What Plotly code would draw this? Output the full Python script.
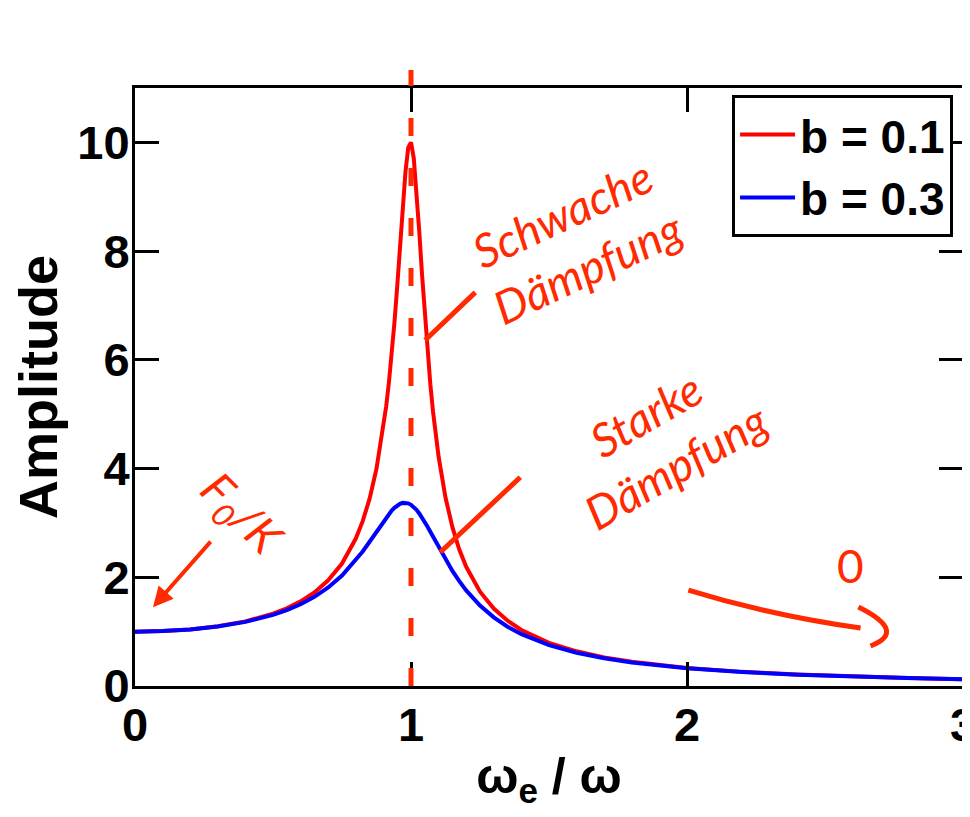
import plotly.graph_objects as go

# ---- data ----
ratio = [0.0, 0.1, 0.2, 0.3, 0.4, 0.5, 0.55, 0.6, 0.65, 0.7, 0.75, 0.8, 0.825, 0.85,
         0.875, 0.9, 0.91, 0.92, 0.93, 0.94, 0.95, 0.96, 0.97, 0.98, 0.99, 1.0,
         1.01, 1.02, 1.03, 1.04, 1.05, 1.06, 1.07, 1.08, 1.09, 1.1, 1.125, 1.15,
         1.175, 1.2, 1.25, 1.3, 1.35, 1.4, 1.5, 1.6, 1.7, 1.8, 2.0, 2.2, 2.4,
         2.6, 2.8, 3.0]
amp_b01 = [1.000, 1.010, 1.041, 1.098, 1.189, 1.330, 1.429, 1.556, 1.721, 1.943,
           2.253, 2.712, 3.032, 3.446, 3.997, 4.757, 5.141, 5.585, 6.097, 6.684,
           7.346, 8.068, 8.804, 9.461, 9.903, 10.000, 9.711, 9.115, 8.357, 7.565,
           6.815, 6.141, 5.552, 5.041, 4.600, 4.218, 3.467, 2.921, 2.510, 2.193,
           1.735, 1.424, 1.200, 1.031, 0.794, 0.638, 0.527, 0.445, 0.333, 0.260,
           0.210, 0.173, 0.146, 0.125]
amp_b03 = [1.000, 1.010, 1.040, 1.094, 1.179, 1.307, 1.395, 1.504, 1.641, 1.813,
           2.033, 2.311, 2.475, 2.653, 2.842, 3.029, 3.100, 3.166, 3.226, 3.278,
           3.320, 3.350, 3.368, 3.371, 3.360, 3.333, 3.293, 3.240, 3.175, 3.101,
           3.019, 2.931, 2.839, 2.746, 2.651, 2.557, 2.328, 2.118, 1.928, 1.759,
           1.479, 1.262, 1.091, 0.954, 0.753, 0.613, 0.511, 0.434, 0.327, 0.257,
           0.208, 0.172, 0.145, 0.124]
series_names = ["b = 0.1", "b = 0.3"]
x_ticks = [0, 1, 2, 3]
y_ticks = [0, 2, 4, 6, 8, 10]

RED = "#ff0000"
BLUE = "#0000ff"
INK = "#ff2a00"
FONT = "Liberation Sans, Arial, sans-serif"
HAND = "Lato, DejaVu Sans, sans-serif"

fig = go.Figure()
fig.add_trace(go.Scatter(x=ratio, y=amp_b01, mode="lines", name=series_names[0],
                         line=dict(color=RED, width=4)))
fig.add_trace(go.Scatter(x=ratio, y=amp_b03, mode="lines", name=series_names[1],
                         line=dict(color=BLUE, width=4)))

axis_common = dict(showline=True, linecolor="black", linewidth=3, mirror="ticks",
                   ticks="inside", ticklen=24, tickwidth=3, tickcolor="black",
                   showgrid=False, zeroline=False, automargin=False,
                   ticklabeloverflow="allow",
                   tickfont=dict(family=FONT, size=47, color="black", weight="bold"))

fig.update_layout(
    template="none",
    width=962, height=809,
    margin=dict(l=127, r=7, t=80, b=131),
    paper_bgcolor="white", plot_bgcolor="white",
    xaxis=dict(range=[0, 3], tickvals=x_ticks, ticklabelstandoff=-4,
               title=dict(text="ω<sub>e</sub> / ω", standoff=8,
                          font=dict(family=FONT, size=50, color="black", weight="bold")),
               **axis_common),
    yaxis=dict(range=[0, 11], tickvals=y_ticks, ticklabelstandoff=-7,
               title=dict(text="Amplitude", standoff=24,
                          font=dict(family=FONT, size=54, color="black", weight="bold")),
               **axis_common),
    legend=dict(x=0.988, y=0.988, xanchor="right", yanchor="top",
                bgcolor="white", bordercolor="black", borderwidth=3,
                font=dict(family=FONT, size=46, color="black", weight="bold"),
                itemwidth=55, tracegroupgap=0),
    showlegend=True,
)

# ---- handwritten-style annotations ----
shapes = [
    # dashed vertical line at resonance
    dict(type="line", xref="x", yref="paper", x0=1, x1=1, y0=0, y1=1.03,
         line=dict(color=INK, width=5, dash="18px,32px")),
    # pointer lines
    dict(type="line", xref="x", yref="y", x0=1.051, y0=6.36, x1=1.233, y1=7.24,
         line=dict(color=INK, width=5)),
    dict(type="line", xref="x", yref="y", x0=1.106, y0=2.46, x1=1.396, y1=3.84,
         line=dict(color=INK, width=5)),
    # long arrow towards 0
    dict(type="path", xref="x", yref="y",
         path="M 2.005,1.765 Q 2.30,1.30 2.629,1.066",
         line=dict(color=INK, width=5)),
    dict(type="path", xref="x", yref="y",
         path="M 2.621,1.452 Q 2.80,1.00 2.665,0.735",
         line=dict(color=INK, width=5)),
]
fig.update_layout(shapes=shapes)

hand_font = dict(family=HAND, size=46, color=INK, style="italic")
annotations = [
    dict(x=1.015, y=11.97, xref="x", yref="y", text="ω<sub>e</sub> = ω",
         showarrow=False, textangle=-5, font=hand_font),
    dict(x=1.595, y=8.2, xref="x", yref="y", text="Schwache<br>Dämpfung",
         showarrow=False, textangle=-25, font=hand_font),
    dict(x=1.904, y=4.52, xref="x", yref="y", text="Starke<br>Dämpfung",
         showarrow=False, textangle=-30, font=hand_font),
    dict(x=0.381, y=3.14, xref="x", yref="y", text="F<sub>0</sub>/K",
         showarrow=False, textangle=45, font=hand_font),
    dict(x=2.593, y=2.22, xref="x", yref="y", text="0",
         showarrow=False, font=dict(family=HAND, size=46, color=INK)),
    dict(x=0.065, y=1.45, xref="x", yref="y", text="", showarrow=True,
         ax=59, ay=-67, arrowcolor=INK, arrowwidth=4, arrowhead=2, arrowsize=1),
]
fig.update_layout(annotations=annotations)

fig.write_html("out.html")
